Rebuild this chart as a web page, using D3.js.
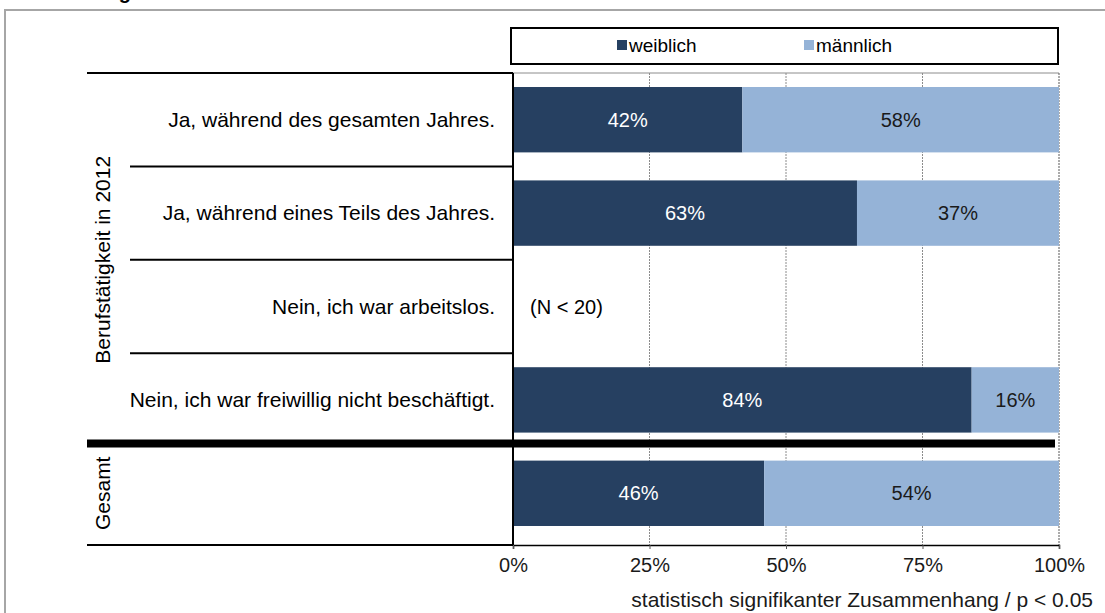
<!DOCTYPE html>
<html>
<head>
<meta charset="utf-8">
<script src="https://cdn.jsdelivr.net/npm/d3@7"></script>
<style>
  body { margin: 0; background: #fff; }
  text { font-family: "Liberation Sans", Arial, sans-serif; }
</style>
</head>
<body>
<div id="chart"></div>
<script>
var width = 1105,
    height = 613;

// data
var categories = ["Ja, während des gesamten Jahres.",
                  "Ja, während eines Teils des Jahres.",
                  "Nein, ich war arbeitslos.",
                  "Nein, ich war freiwillig nicht beschäftigt.",
                  "Gesamt"];
var weiblich  = [42, 63, null, 84, 46];
var maennlich = [58, 37, null, 16, 54];
var seriesNames = ["weiblich", "männlich"];
var ticks = [0, 25, 50, 75, 100];
var groupLabels = ["Berufstätigkeit in 2012", "Gesamt"];
var groupStart = [0, 4],
    groupEnd = [3, 4];
var noteText = "(N < 20)";
var footnote = "statistisch signifikanter Zusammenhang / p < 0.05";

var colors = ["#264061", "#95b3d7"];

var svg = d3.select("#chart").append("svg")
    .attr("width", width)
    .attr("height", height);

// outer frame (runs off to the right and bottom)
svg.append("rect")
    .attr("x", 5).attr("y", 10)
    .attr("width", 1120).attr("height", 640)
    .attr("fill", "none")
    .attr("stroke", "#a6a6a6")
    .attr("stroke-width", 2);

// cut-off title
svg.append("text")
    .attr("x", 131).attr("y", -1)
    .attr("text-anchor", "end")
    .style("font-weight", "bold")
    .style("font-size", "20px")
    .text("ng");

var x = d3.scaleLinear().domain([0, 100]).range([513, 1059]);
var y = d3.scaleBand().domain(categories).range([73, 540])
    .paddingInner(0.3).paddingOuter(0.15);
var step = y.step();
var rowTop = function(i) { return y(categories[i]) - step * 0.15; };

var leftX = 87,
    innerX = 130;

// gridlines
svg.append("g").selectAll("line")
    .data(ticks.slice(1, 4))
    .enter().append("line")
    .attr("x1", function(d) { return x(d); })
    .attr("x2", function(d) { return x(d); })
    .attr("y1", 73).attr("y2", 545)
    .attr("stroke", "#8c8c8c")
    .attr("stroke-dasharray", "2,1")
    .attr("stroke-width", 1);

// plot border top + right
svg.append("line")
    .attr("x1", x(0)).attr("x2", x(100)).attr("y1", 73).attr("y2", 73)
    .attr("stroke", "#8c8c8c").attr("stroke-width", 1);
svg.append("line")
    .attr("x1", x(100)).attr("x2", x(100)).attr("y1", 73).attr("y2", 545)
    .attr("stroke", "#595959").attr("stroke-dasharray", "2,1").attr("stroke-width", 1);

// bars
var rows = categories.map(function(c, i) {
    return {cat: c, w: weiblich[i], m: maennlich[i]};
});

var bars = svg.append("g");
rows.forEach(function(r) {
    if (r.w == null) return;
    var segs = [{v0: 0, v1: r.w, c: 0}, {v0: r.w, v1: r.w + r.m, c: 1}];
    bars.selectAll(null)
        .data(segs)
        .enter().append("rect")
        .attr("x", function(d) { return x(d.v0); })
        .attr("width", function(d) { return x(d.v1) - x(d.v0); })
        .attr("y", y(r.cat))
        .attr("height", y.bandwidth())
        .attr("fill", function(d) { return colors[d.c]; });
    bars.selectAll(null)
        .data(segs)
        .enter().append("text")
        .attr("x", function(d) { return (x(d.v0) + x(d.v1)) / 2; })
        .attr("y", y(r.cat) + y.bandwidth() / 2)
        .attr("dy", "0.35em")
        .attr("text-anchor", "middle")
        .style("font-size", "20px")
        .attr("fill", function(d) { return d.c == 0 ? "#fff" : "#1a1a1a"; })
        .text(function(d) { return (d.v1 - d.v0) + "%"; });
});

// (N < 20) note
rows.forEach(function(r) {
    if (r.w != null) return;
    svg.append("text")
        .attr("x", x(0) + 17)
        .attr("y", y(r.cat) + y.bandwidth() / 2)
        .attr("dy", "0.35em")
        .style("font-size", "20px")
        .attr("fill", "#000")
        .text(noteText);
});

// category labels
svg.append("g").selectAll("text")
    .data(categories.slice(0, 4))
    .enter().append("text")
    .attr("x", 495)
    .attr("y", function(d) { return y(d) + y.bandwidth() / 2; })
    .attr("dy", "0.35em")
    .attr("text-anchor", "end")
    .style("font-size", "21px")
    .attr("fill", "#000")
    .text(function(d) { return d; });

// left separators: outer top starts further left, inner ones after the group label
svg.append("g").selectAll("line")
    .data([0, 1, 2, 3])
    .enter().append("line")
    .attr("x1", function(i) { return i == 0 ? leftX : innerX; })
    .attr("x2", x(0))
    .attr("y1", function(i) { return rowTop(i); })
    .attr("y2", function(i) { return rowTop(i); })
    .attr("stroke", "#000").attr("stroke-width", 2);

// thick divider before Gesamt
svg.append("line")
    .attr("x1", leftX).attr("x2", 1055)
    .attr("y1", rowTop(4) - 3).attr("y2", rowTop(4) - 3)
    .attr("stroke", "#000").attr("stroke-width", 8);

// bottom line
svg.append("line")
    .attr("x1", leftX).attr("x2", x(0))
    .attr("y1", 545).attr("y2", 545)
    .attr("stroke", "#000").attr("stroke-width", 2);

// vertical category axis
svg.append("line")
    .attr("x1", x(0)).attr("x2", x(0))
    .attr("y1", 73).attr("y2", 545)
    .attr("stroke", "#000").attr("stroke-width", 2);

// x axis
var xAxis = svg.append("g")
    .attr("transform", "translate(0,545)")
    .call(d3.axisBottom(x).tickValues(ticks)
        .tickFormat(function(d) { return d + "%"; })
        .tickSize(4).tickPadding(9));
xAxis.select(".domain").attr("stroke", "#000").attr("stroke-width", 1.5);
xAxis.selectAll(".tick line").attr("stroke", "#595959");
xAxis.selectAll("text")
    .style("font-family", "Liberation Sans, Arial, sans-serif")
    .style("font-size", "20px")
    .attr("fill", "#1a1a1a");

// group labels (rotated)
groupLabels.forEach(function(g, i) {
    var cy = (rowTop(groupStart[i]) + rowTop(groupEnd[i]) + step) / 2;
    if (i == 0) cy = (rowTop(0) + rowTop(4)) / 2;
    svg.append("text")
        .attr("transform", "translate(103," + cy + ") rotate(-90)")
        .attr("text-anchor", "middle")
        .attr("dy", "0.35em")
        .style("font-size", "21px")
        .attr("fill", "#000")
        .text(g);
});

// legend
var legend = svg.append("g");
legend.append("rect")
    .attr("x", 511).attr("y", 28)
    .attr("width", 547).attr("height", 36)
    .attr("fill", "#fff")
    .attr("stroke", "#000").attr("stroke-width", 2);
var legendX = [617, 804];
seriesNames.forEach(function(s, i) {
    legend.append("rect")
        .attr("x", legendX[i]).attr("y", 40)
        .attr("width", 10).attr("height", 10)
        .attr("fill", colors[i]);
    legend.append("text")
        .attr("x", legendX[i] + 12).attr("y", 45)
        .attr("dy", "0.35em")
        .style("font-size", "19px")
        .attr("fill", "#000")
        .text(s);
});

// footnote
svg.append("text")
    .attr("x", 1093).attr("y", 607)
    .attr("text-anchor", "end")
    .style("font-size", "21px")
    .attr("fill", "#1a1a1a")
    .text(footnote);
</script>
</body>
</html>
